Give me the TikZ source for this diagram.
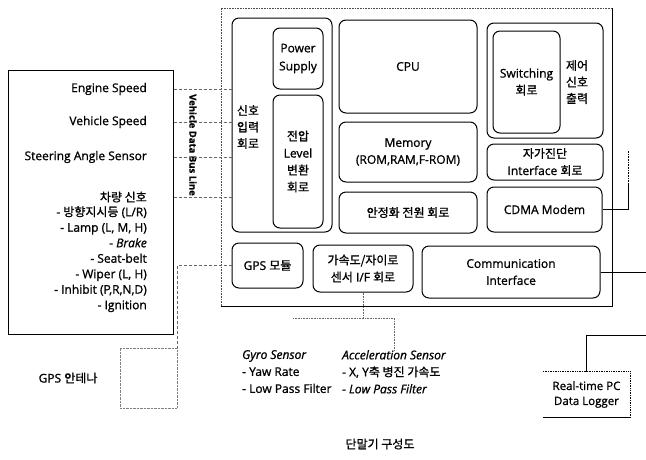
\documentclass[tikz,border=0pt]{standalone}
\usepackage{fontspec}
\setmainfont{Open Sans}[FakeBold=1]
\newfontfamily\kr{Noto Sans CJK KR}[FakeBold=1]
\usetikzlibrary{positioning, calc}

\begin{document}
\begin{tikzpicture}[
    x=1pt, y=-1pt,
    font=\fontsize{12}{17}\selectfont,
    blk/.style={rectangle, rounded corners=7pt, draw, line width=1pt,
                align=center, inner sep=1pt},
    krt/.style={align=center, inner sep=1pt, font=\fontsize{12}{16.5}\selectfont\kr},
    sig/.style={anchor=east, align=right, inner sep=1pt},
    bus/.style={densely dashed, line width=0.6pt, black!60},
    wire/.style={line width=0.8pt}
]
    \useasboundingbox (0,0) rectangle (646,459);

    % Terminal frame
    \coordinate (fnw) at (221,8);
    \coordinate (fse) at (612,306);
    \draw[densely dotted, line width=0.6pt, black!70] (fnw |- fse) -- (fnw) -- (fse |- fnw);
    \draw[line width=0.8pt] (fse |- fnw) -- (fse) -- (fnw |- fse);

    % Input side
    \node[blk, minimum width=100, minimum height=214] (sigin) at (282,125) {};
    \node[krt] (sigtxt) at (248,127) {신호\\입력\\회로};
    \node[blk, minimum width=50, minimum height=61, font=\fontsize{12}{18}\selectfont] (pwr) at (298,58.5) {Power\\Supply};
    \node[blk, minimum width=50, minimum height=133] (lvl) at (298,161.5) {{\kr 전압}\\Level\\{\kr 변환}\\{\kr 회로}};

    % Core
    \node[blk, minimum width=138, minimum height=93] (cpu) at (408,66.5) {CPU};
    \node[blk, minimum width=138, minimum height=60] (mem) at (408,152) {Memory\\(ROM,RAM,F-ROM)};
    \node[blk, minimum width=138, minimum height=41] (stab) at (408,212.5) {\kr 안정화 전원 회로};

    % Output side
    \node[blk, minimum width=116, minimum height=115] (ctrl) at (545,80.5) {};
    \node[blk, minimum width=67, minimum height=102] (sw) at (526.5,82) {Switching\\{\kr 회로}};
    \node[krt] (ctrltxt) at (577,82) {제어\\신호\\출력};
    \node[blk, minimum width=116, minimum height=36] (diag) at (545,162) {{\kr 자가진단}\\Interface {\kr 회로}};
    \node[blk, minimum width=115, minimum height=45] (cdma) at (544.5,209.5) {CDMA Modem};

    % Bottom row
    \node[blk, minimum width=71, minimum height=45] (gps) at (267.5,265.5) {GPS {\kr 모듈}};
    \node[blk, minimum width=100, minimum height=47] (accif) at (363,268.5) {{\kr 가속도/자이로}\\{\kr 센서} I/F {\kr 회로}};
    \node[blk, minimum width=178, minimum height=52] (comm) at (511,272) {Communication\\Interface};

    % Vehicle signals
    \node[draw, line width=1pt, minimum width=165, minimum height=264] (inbox) at (90.5,202) {};
    \node[sig] (eng) at (148,89) {Engine Speed};
    \node[sig] (veh) at (148,122) {Vehicle Speed};
    \node[sig] (str) at (148,157) {Steering Angle Sensor};
    \node[sig, font=\fontsize{12}{16}\selectfont\kr] (car) at (148,197) {차량 신호};
    \node[sig, anchor=north east, font=\fontsize{12}{15.5}\selectfont] (carl) at (148,205)
        {- {\kr 방향지시등} (L/R)\\- Lamp (L, M, H)\\- {\itshape Brake}\\- Seat-belt\\- Wiper (L, H)\\- Inhibit (P,R,N,D)\\- Ignition};
    \node[rotate=-90, fill=white, inner sep=1pt, font=\fontsize{9.5}{11}\selectfont\bfseries] (busl) at (193,145) {Vehicle Data Bus Line};

    \draw[bus] (inbox.east |- eng) -- (sigin.west |- eng);
    \draw[bus] (inbox.east |- veh) -- (sigin.west |- veh);
    \draw[bus] (inbox.east |- str) -- (sigin.west |- str);
    \draw[bus] (inbox.east |- car) -- (sigin.west |- car);

    % GPS antenna
    \node[draw, densely dotted, black!50, minimum width=57, minimum height=60] (ant) at (148.5,378) {};
    \node (antl) at (68,378) {GPS {\kr 안테나}};
    \draw[bus] (gps.west) -| (ant.north east);

    % Sensors
    \node[anchor=north west, align=left, inner sep=0pt] (gyro) at (242,350)
        {{\itshape Gyro Sensor}\\- Yaw Rate\\- Low Pass Filter};
    \node[anchor=north west, align=left, inner sep=0pt] (acc) at (342,350)
        {{\itshape Acceleration Sensor}\\- X, Y{\kr 축 병진 가속도}\\{\itshape - Low Pass Filter}};
    \coordinate (gyj) at (293,318);
    \draw[bus, densely dotted] (accif.south) -- (accif.south |- gyj);
    \draw[bus, densely dotted] (gyj) -| (acc.north);

    % Data logger
    \node[align=center, inner sep=0pt, minimum width=87, minimum height=45, font=\fontsize{11.5}{15}\selectfont] (log) at (586.5,394.5) {Real-time PC\\Data Logger};
    \draw[densely dotted, line width=0.7pt] (log.north west) -- (log.north east) -- (log.south east);
    \draw[line width=0.8pt] (log.south west) -- (log.south east);

    % Links out
    \coordinate (cmR) at (646,272);
    \coordinate (pcR) at (646,335);
    \coordinate (cdt) at (628,185);
    \coordinate (cdtop) at (628,150);
    \draw[wire] (comm.east) -- (cmR);
    \draw[wire] (log.north) |- (pcR);
    \draw[wire] (cdma.east) -| (cdt);
    \draw[densely dotted, line width=0.6pt] (cdt) -- (cdtop);

    % Caption
    \node[krt] (title) at (380,444) {단말기 구성도};
\end{tikzpicture}
\end{document}
